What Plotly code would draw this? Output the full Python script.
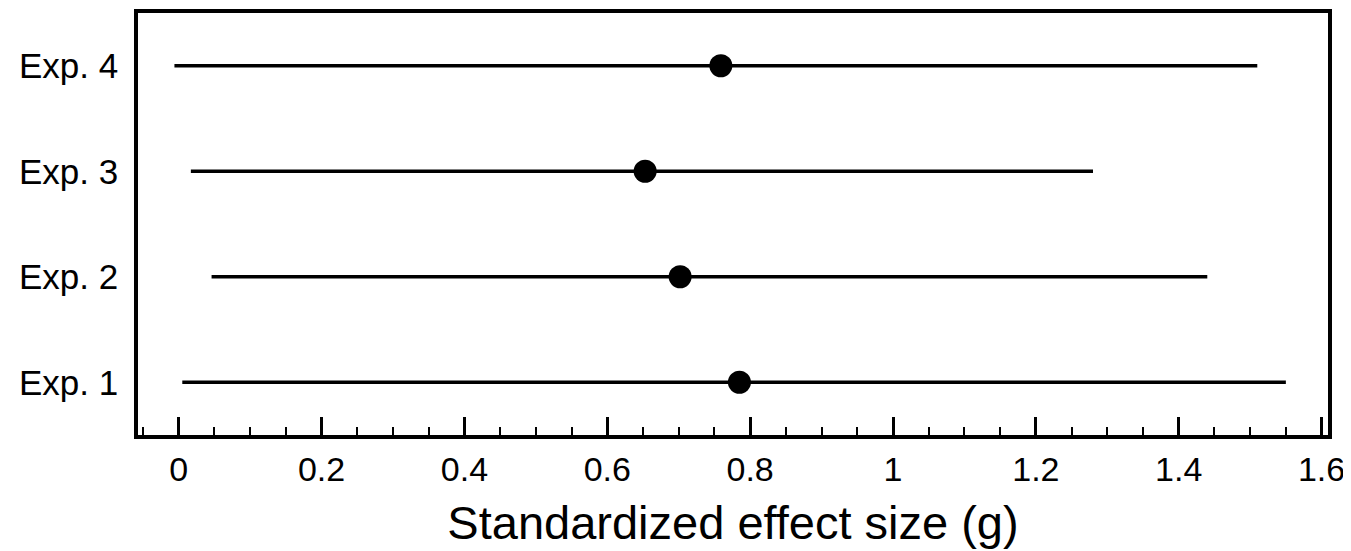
import plotly.graph_objects as go

experiments = ["Exp. 1", "Exp. 2", "Exp. 3", "Exp. 4"]
positions = [1, 2, 3, 4]
effect = [0.785, 0.702, 0.653, 0.759]
ci_low = [0.005, 0.046, 0.017, -0.006]
ci_high = [1.550, 1.440, 1.280, 1.510]
x_ticks = [0, 0.2, 0.4, 0.6, 0.8, 1.0, 1.2, 1.4, 1.6]
x_tick_labels = ["0", "0.2", "0.4", "0.6", "0.8", "1", "1.2", "1.4", "1.6"]

err_plus = [h - e for h, e in zip(ci_high, effect)]
err_minus = [e - l for e, l in zip(effect, ci_low)]

FONT = "Arial, Liberation Sans, Helvetica, sans-serif"

fig = go.Figure()
fig.add_trace(go.Scatter(
    x=effect, y=positions, mode="markers",
    marker=dict(color="black", size=23),
    error_x=dict(type="data", symmetric=False, array=err_plus,
                 arrayminus=err_minus, width=0, thickness=3.5, color="black"),
    showlegend=False, hoverinfo="skip",
))

fig.update_layout(
    width=1351, height=551,
    margin=dict(l=130, r=31, t=1, b=124),
    paper_bgcolor="white", plot_bgcolor="white",
    font=dict(family=FONT, color="black"),
)
fig.update_xaxes(
    range=[-0.057, 1.609], tickvals=x_ticks, ticktext=x_tick_labels,
    ticks="inside", ticklen=18, tickwidth=3, tickcolor="black",
    minor=dict(dtick=0.05, tick0=0, ticks="inside", ticklen=8, tickwidth=2, tickcolor="black", showgrid=False),
    showline=True, linewidth=3.5, linecolor="black", mirror=True,
    showgrid=False, zeroline=False,
    tickfont=dict(size=34, family=FONT), ticklabelstandoff=1,
    title=dict(text="Standardized effect size (g)", font=dict(size=47, family=FONT), standoff=21),
)
fig.update_yaxes(
    range=[0.5, 4.5], tickvals=positions, ticktext=experiments,
    ticks="", showline=True, linewidth=3.5, linecolor="black", mirror=True,
    showgrid=False, zeroline=False,
    tickfont=dict(size=35, family=FONT), ticklabelstandoff=9,
)
fig.write_html("out.html")
